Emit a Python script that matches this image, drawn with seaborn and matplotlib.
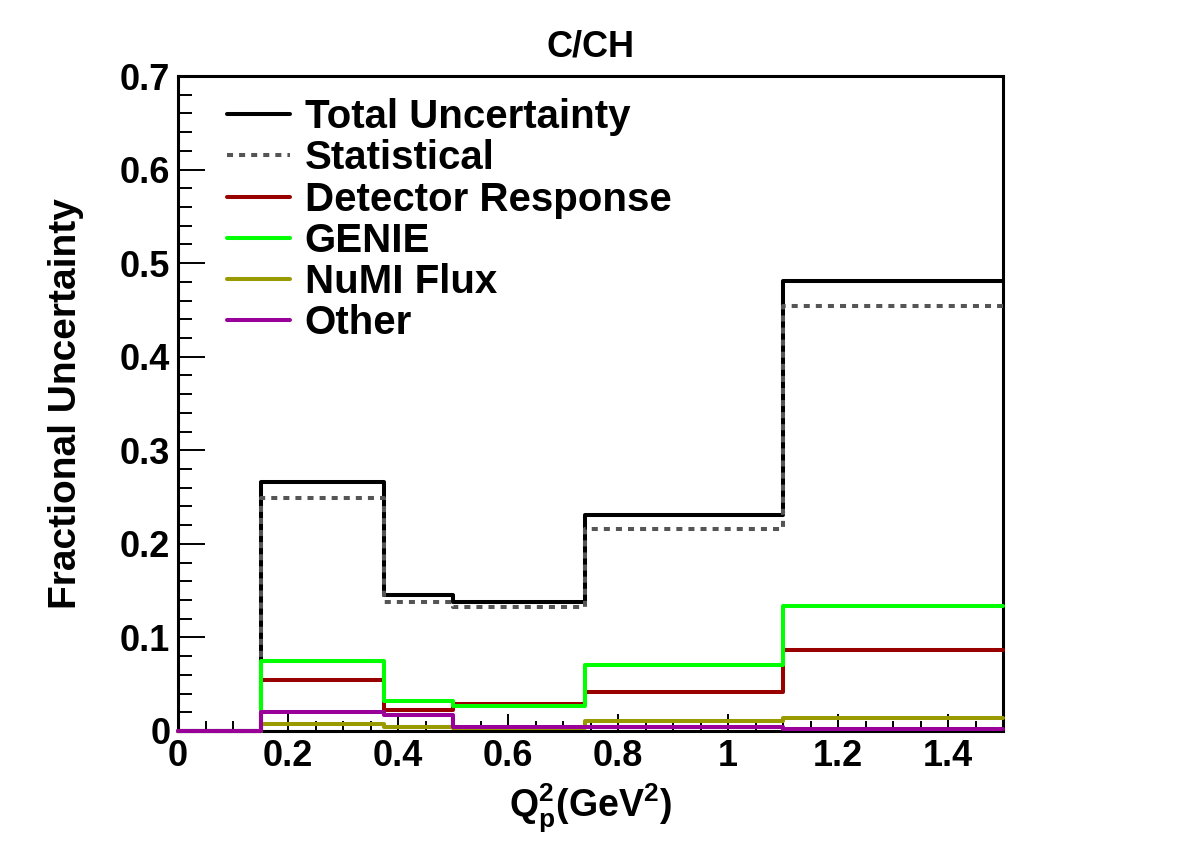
import matplotlib
matplotlib.use("Agg")
import matplotlib.pyplot as plt
from matplotlib.ticker import MultipleLocator, FuncFormatter
import seaborn as sns
import pandas as pd

# ---------------- data ----------------
edges = [0.0, 0.15, 0.375, 0.5, 0.74, 1.1, 1.5]
total = [0.0, 0.266, 0.145, 0.138, 0.231, 0.481]
statistical = [0.0, 0.249, 0.138, 0.133, 0.216, 0.454]
detector = [0.0, 0.055, 0.022, 0.029, 0.042, 0.087]
genie = [0.0, 0.075, 0.032, 0.027, 0.071, 0.134]
flux = [0.0, 0.0075, 0.0045, 0.003, 0.011, 0.0135]
other = [0.0, 0.0205, 0.017, 0.004, 0.0045, 0.002]

labels = ["Total Uncertainty", "Statistical", "Detector Response", "GENIE", "NuMI Flux", "Other"]
series = [total, statistical, detector, genie, flux, other]
colors = ["#000000", "#555555", "#990000", "#00ff00", "#999900", "#990099"]
title = "C/CH"
xlabel = r"$\mathbf{Q^{2}_{p}(GeV^{2})}$"
ylabel = "Fractional Uncertainty"
xticks = [0, 0.2, 0.4, 0.6, 0.8, 1.0, 1.2, 1.4]
yticks = [0, 0.1, 0.2, 0.3, 0.4, 0.5, 0.6, 0.7]

sns.set_theme(style="ticks")
plt.rcParams["font.family"] = ["Liberation Sans", "DejaVu Sans"]
plt.rcParams["font.weight"] = "bold"
plt.rcParams["text.color"] = "black"
plt.rcParams["axes.labelcolor"] = "black"
plt.rcParams["xtick.color"] = "black"
plt.rcParams["ytick.color"] = "black"
plt.rcParams["mathtext.fontset"] = "custom"
plt.rcParams["mathtext.bf"] = "Liberation Sans:bold"
plt.rcParams["mathtext.rm"] = "Liberation Sans:bold"

fig = plt.figure(figsize=(11.82, 8.61), dpi=100)
ax = fig.add_axes([178 / 1182, 1 - 731 / 861, 825 / 1182, 655 / 861])

rows = []
for lab, vals in zip(labels, series):
    ys = list(vals) + [vals[-1]]
    for i, (x, y) in enumerate(zip(edges, ys)):
        rows.append({"x": x, "y": y, "source": lab, "order": i})
df = pd.DataFrame(rows)

for lab, col in zip(labels, colors):
    sub = df[df["source"] == lab]
    kw = dict(color=col, linewidth=2.9, drawstyle="steps-post", ax=ax,
              label=lab, estimator=None, sort=False, clip_on=False, zorder=3)
    if lab == "Statistical":
        kw["linestyle"] = (0, (1.5, 1.5))
    sns.lineplot(data=sub, x="x", y="y", **kw)

ax.set_xlim(0, 1.5)
ax.set_ylim(0, 0.7)
ax.set_xticks(xticks)
ax.set_yticks(yticks)
ax.xaxis.set_minor_locator(MultipleLocator(0.05))
ax.yaxis.set_minor_locator(MultipleLocator(0.02))

fmt = FuncFormatter(lambda v, p: ("%g" % round(v, 3)))
ax.xaxis.set_major_formatter(fmt)
ax.yaxis.set_major_formatter(fmt)

ax.tick_params(axis="both", which="both", direction="in", top=False, right=False,
               width=1.4, color="black", labelcolor="black")
ax.tick_params(axis="x", which="major", length=12.2, pad=5.5)
ax.tick_params(axis="x", which="minor", length=7.0)
ax.tick_params(axis="y", which="major", length=19.4, pad=5.5)
ax.tick_params(axis="y", which="minor", length=10.0)

for lab in ax.get_yticklabels() + ax.get_xticklabels():
    lab.set_fontsize(26)
    lab.set_fontweight("bold")

for s in ax.spines.values():
    s.set_linewidth(2.2)
    s.set_color("black")

ax.set_title(title, fontsize=26, fontweight="bold", pad=14, color="black")
ax.set_xlabel(xlabel, fontsize=27, labelpad=6, color="black")
ax.set_ylabel(ylabel, fontsize=28, fontweight="bold", labelpad=26, color="black")

leg = ax.legend(loc="upper left", bbox_to_anchor=(0.0594, 0.966), frameon=False,
                fontsize=29, handlelength=1.56, handletextpad=0.37, labelspacing=0.08,
                borderpad=0, borderaxespad=0)
for t in leg.get_texts():
    t.set_fontweight("bold")
    t.set_color("black")
for h in leg.get_lines():
    h.set_linewidth(2.9)

fig.savefig("out.png", dpi=100, facecolor="white")
